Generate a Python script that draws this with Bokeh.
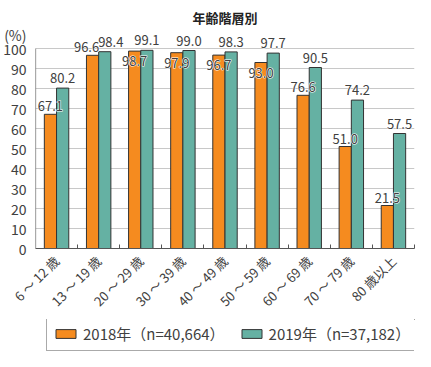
import math
from bokeh.plotting import figure
from bokeh.layouts import column
from bokeh.core.properties import value
from bokeh.models import (ColumnDataSource, Range1d, FixedTicker, CustomJSTickFormatter,
                          LabelSet, Legend, LegendItem, Title)
from bokeh.embed import file_html
from bokeh.resources import INLINE

# ---- data ----
categories = ["6 ～ 12 歳", "13 ～ 19 歳", "20 ～ 29 歳", "30 ～ 39 歳", "40 ～ 49 歳",
              "50 ～ 59 歳", "60 ～ 69 歳", "70 ～ 79 歳", "80 歳以上"]
values_2018 = [67.1, 96.6, 98.7, 97.9, 96.7, 93.0, 76.6, 51.0, 21.5]
values_2019 = [80.2, 98.4, 99.1, 99.0, 98.3, 97.7, 90.5, 74.2, 57.5]
series_names = ["2018年（n=40,664）", "2019年（n=37,182）"]
y_ticks = [0, 10, 20, 30, 40, 50, 60, 70, 80, 90, 100]
title_text = "年齢階層別"
unit_text = "(%)"

# ---- style ----
FONT = "Noto Sans CJK JP"
ORANGE = "#F58B1F"
TEAL = "#65B1A3"
TXT = "#404040"
EDGE = "#333333"
AXIS = "#555555"
BAR_W = 0.29
n = len(categories)
y_top = max(y_ticks)
y_end = y_top + 8.5          # headroom for value labels
unit_pos = y_top + 7.0       # where the "(%)" sits on the y axis

x2018 = [i + 0.5 - BAR_W / 2 for i in range(n)]
x2019 = [i + 0.5 + BAR_W / 2 for i in range(n)]

# label nudges (pixels): group 1 pushed apart, some 2018 labels sit inside the bars
dx2018 = [-6 if i == 1 else 0 for i in range(n)]
dx2019 = [6 if i == 1 else 0 for i in range(n)]
dy2018 = [-15 if i in (2, 3, 4, 5) else 3 for i in range(n)]
dy2019 = [5 for i in range(n)]

src18 = ColumnDataSource(dict(x=x2018, top=values_2018,
                              text=[f"{v:.1f}" for v in values_2018], dx=dx2018, dy=dy2018))
src19 = ColumnDataSource(dict(x=x2019, top=values_2019,
                              text=[f"{v:.1f}" for v in values_2019], dx=dx2019, dy=dy2019))

p = figure(width=415, height=319, output_backend="svg", toolbar_location=None,
           x_range=Range1d(0, n), y_range=Range1d(0, y_end),
           min_border_left=26, min_border_right=1, min_border_top=25, min_border_bottom=71)
p.outline_line_color = None
p.background_fill_color = "white"
p.border_fill_color = "white"

r18 = p.vbar(x="x", top="top", width=BAR_W, bottom=0, source=src18,
             fill_color=ORANGE, line_color=EDGE, line_width=1)
r19 = p.vbar(x="x", top="top", width=BAR_W, bottom=0, source=src19,
             fill_color=TEAL, line_color=EDGE, line_width=1)

# left axis line only up to the top tick
p.segment(x0=[0], y0=[0], x1=[0], y1=[y_top], line_color=AXIS, line_width=1.2)

for src in (src18, src19):
    halo = LabelSet(x="x", y="top", text="text", source=src,
                    x_offset="dx", y_offset="dy",
                    text_align="center", text_baseline="bottom",
                    text_font=value(FONT), text_font_size=value("13px"),
                    text_color="white", text_outline_color="white")
    p.add_layout(halo)
    labels = LabelSet(x="x", y="top", text="text", source=src,
                      x_offset="dx", y_offset="dy",
                      text_align="center", text_baseline="bottom",
                      text_font=value(FONT), text_font_size=value("13px"),
                      text_color=TXT)
    p.add_layout(labels)

# grid
p.xgrid.grid_line_color = None
p.ygrid.ticker = FixedTicker(ticks=y_ticks)
p.ygrid.grid_line_color = "#c8c8c8"
p.ygrid.grid_line_width = 1

# y axis (tick labels + the unit label above 100)
p.yaxis.ticker = FixedTicker(ticks=y_ticks + [unit_pos])
p.yaxis.formatter = CustomJSTickFormatter(args=dict(unit=unit_text, top=y_top),
                                          code="return tick > top ? unit : tick.toFixed(0);")
p.yaxis.major_tick_line_color = None
p.yaxis.minor_tick_line_color = None
p.yaxis.axis_line_color = None
p.yaxis.major_label_standoff = 3
p.yaxis.major_label_text_font = FONT
p.yaxis.major_label_text_font_size = "14px"
p.yaxis.major_label_text_color = TXT

# x axis
p.xaxis.ticker = FixedTicker(ticks=[i + 0.5 for i in range(n)],
                             minor_ticks=[i for i in range(1, n + 1)])
p.xaxis.formatter = CustomJSTickFormatter(args=dict(labels=categories),
                                          code="return labels[Math.floor(tick)];")
p.xaxis.major_tick_line_color = None
p.xaxis.minor_tick_line_color = AXIS
p.xaxis.minor_tick_in = 4
p.xaxis.minor_tick_out = 0
p.xaxis.axis_line_color = AXIS
p.xaxis.major_label_orientation = math.pi / 4
p.xaxis.major_label_standoff = 4
p.xaxis.major_label_text_font = FONT
p.xaxis.major_label_text_font_size = "13px"
p.xaxis.major_label_text_color = TXT

# title
p.add_layout(Title(text=title_text, align="center", text_font=FONT,
                   text_font_size="13px", text_font_style="bold",
                   text_color="#222222", standoff=10), "above")

# legend in its own strip below the chart
lg = figure(width=415, height=32, output_backend="svg", toolbar_location=None,
            x_range=Range1d(0, 1), y_range=Range1d(0, 1),
            x_axis_location=None, y_axis_location=None,
            min_border=0, min_border_left=0, min_border_right=0,
            min_border_top=0, min_border_bottom=0)
lg.outline_line_color = None
lg.grid.visible = False
# legend swatches only: their single bar lies outside the visible range
d18 = lg.vbar(x=[5], top=[5], bottom=[4], width=0.1, fill_color=ORANGE, line_color=EDGE, line_width=1)
d19 = lg.vbar(x=[5], top=[5], bottom=[4], width=0.1, fill_color=TEAL, line_color=EDGE, line_width=1)
legend = Legend(items=[LegendItem(label=series_names[0], renderers=[d18]),
                       LegendItem(label=series_names[1], renderers=[d19])],
                orientation="horizontal", location=(11, 0),
                label_text_font=FONT, label_text_font_size="15px", label_text_color=TXT,
                glyph_width=25, glyph_height=11, label_height=19, label_standoff=5,
                spacing=14, padding=6, margin=0,
                border_line_color=AXIS, border_line_width=1,
                background_fill_color="white")
lg.add_layout(legend)

layout = column(p, lg, spacing=0)
open("out.html", "w").write(file_html(layout, INLINE))
